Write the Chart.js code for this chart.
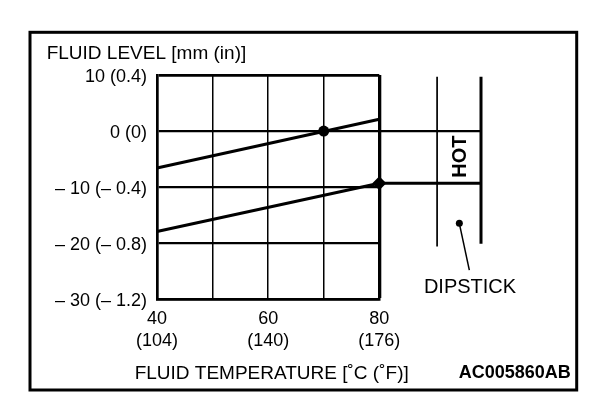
<!DOCTYPE html>
<html>
<head>
<meta charset="utf-8">
<script src="https://cdn.jsdelivr.net/npm/chart.js@4.4.0/dist/chart.umd.min.js"></script>
<style>
  html, body { margin: 0; padding: 0; background: #fff; }
  #wrap { width: 608px; height: 406px; }
</style>
</head>
<body>
<div id="wrap"><canvas id="fluidChart" width="608" height="406"></canvas></div>
<script>
// Fluid temperature [°C] at both ends of the level lines
const tempC = [40, 80];
const upperLevel = [-6.6, 2.1];    // mm
const lowerLevel = [-17.9, -9.3];  // mm

// marked points on the lines
const markTemp = [70, 80];
const markLevel = [0, -9.3];

// tick labels
const xTickValues = [40, 60, 80];
const xTickC = ['40', '60', '80'];
const xTickF = ['(104)', '(140)', '(176)'];
const yTickValues = [10, 0, -10, -20, -30];
const yTickLabels = ['10 (0.4)', '0 (0)', '– 10 (– 0.4)', '– 20 (– 0.8)', '– 30 (– 1.2)'];

// dipstick sketch, in chart units (°C across, mm up)
const dipstickEdge = [90.4, 98.3];
const dipstickTop = 9.7;
const dipstickBottom = [-20.6, -20.1];
const leaderTemp = [94.4, 96.2];
const leaderLevel = [-16.45, -24.8];

const FONT = 'Liberation Sans, Arial, sans-serif';

function pts(xs, ys) {
    return xs.map((x, i) => ({ x: x, y: ys[i] }));
}

function lineSet(data, width, extra) {
    return Object.assign({
        data: data,
        borderColor: '#000',
        backgroundColor: '#000',
        borderWidth: width,
        pointRadius: 0,
        pointHoverRadius: 0,
        showLine: true,
        clip: false
    }, extra || {});
}

// frame, titles and the dipstick captions
const sketchPlugin = {
    id: 'sketch',
    beforeDraw(chart) {
        const ctx = chart.ctx;
        ctx.save();
        ctx.fillStyle = '#fff';
        ctx.fillRect(0, 0, chart.width, chart.height);
        ctx.restore();
    },
    afterDraw(chart) {
        const ctx = chart.ctx;
        const xs = chart.scales.x;
        const ys = chart.scales.y;
        ctx.save();
        ctx.fillStyle = '#000';
        ctx.strokeStyle = '#000';

        // outer frame
        ctx.lineWidth = 3;
        ctx.strokeRect(30, 32.3, 546.7, 357.7);

        // dot at the end of the leader (points outside the chart area are skipped by Chart.js)
        ctx.beginPath();
        ctx.arc(xs.getPixelForValue(leaderTemp[0]), ys.getPixelForValue(leaderLevel[0]), 3.5, 0, Math.PI * 2);
        ctx.fill();

        ctx.textBaseline = 'alphabetic';
        ctx.font = '19px ' + FONT;
        ctx.textAlign = 'left';
        ctx.fillText('FLUID LEVEL [mm (in)]', 46.7, 59.3);

        ctx.textAlign = 'center';
        ctx.fillText('FLUID TEMPERATURE [˚C (˚F)]', 271.7, 379.3);

        ctx.font = '20px ' + FONT;
        ctx.fillText('DIPSTICK', 470, 293.3);

        ctx.font = 'bold 18px ' + FONT;
        ctx.textAlign = 'right';
        ctx.fillText('AC005860AB', 570.7, 378.3);

        // HOT, written upward inside the dipstick band
        ctx.translate(459, 156.7);
        ctx.rotate(-Math.PI / 2);
        ctx.font = 'bold 20px ' + FONT;
        ctx.textAlign = 'center';
        ctx.fillText('HOT', 0, 7.2);
        ctx.restore();
    }
};

const ctx = document.getElementById('fluidChart').getContext('2d');
new Chart(ctx, {
    type: 'line',
    data: {
        datasets: [
            lineSet(pts(tempC, upperLevel), 3),
            lineSet(pts(tempC, lowerLevel), 3),
            lineSet([{ x: markTemp[0], y: markLevel[0] }], 0, {
                showLine: false, pointRadius: 5.5, pointStyle: 'circle'
            }),
            lineSet([{ x: markTemp[1], y: markLevel[1] }], 0, {
                showLine: false, pointRadius: 7, pointStyle: 'rectRot'
            }),
            // levels carried across to the dipstick
            lineSet(pts([80, dipstickEdge[1]], [markLevel[0], markLevel[0]]), 2.3),
            lineSet(pts([80, dipstickEdge[1]], [markLevel[1], markLevel[1]]), 3),
            // dipstick edges
            lineSet(pts([dipstickEdge[0], dipstickEdge[0]], [dipstickTop, dipstickBottom[0]]), 1.7),
            lineSet(pts([dipstickEdge[1], dipstickEdge[1]], [dipstickTop, dipstickBottom[1]]), 3),
            // leader to the DIPSTICK caption
            lineSet(pts(leaderTemp, leaderLevel), 1.5)
        ]
    },
    options: {
        responsive: false,
        animation: false,
        events: [],
        layout: { padding: { left: 0, top: 75, right: 228.7, bottom: 0 } },
        plugins: {
            legend: { display: false },
            tooltip: { enabled: false }
        },
        scales: {
            x: {
                type: 'linear',
                min: 40,
                max: 80,
                afterFit: (scale) => { scale.height = 106.7; },
                grid: {
                    color: '#000',
                    drawTicks: false,
                    lineWidth: (c) => c.tick && c.tick.value === 80 ? 3.3 : 1.5
                },
                border: { color: '#000', width: 2.7 },
                ticks: {
                    stepSize: 10,
                    autoSkip: false,
                    maxRotation: 0,
                    padding: 8,
                    color: '#000',
                    font: { family: FONT, size: 18, lineHeight: 1.25 },
                    callback: (v) => {
                        const i = xTickValues.indexOf(v);
                        return i >= 0 ? [xTickC[i], xTickF[i]] : '';
                    }
                }
            },
            y: {
                type: 'linear',
                min: -30,
                max: 10,
                afterFit: (scale) => { scale.width = 157; },
                grid: {
                    color: '#000',
                    drawTicks: false,
                    lineWidth: (c) => c.tick && c.tick.value === 10 ? 2.7 : 2.3
                },
                border: { color: '#000', width: 2.7 },
                ticks: {
                    stepSize: 10,
                    padding: 10,
                    labelOffset: 2,
                    color: '#000',
                    font: { family: FONT, size: 18 },
                    callback: (v) => {
                        const i = yTickValues.indexOf(v);
                        return i >= 0 ? yTickLabels[i] : '';
                    }
                }
            }
        }
    },
    plugins: [sketchPlugin]
});
</script>
</body>
</html>
